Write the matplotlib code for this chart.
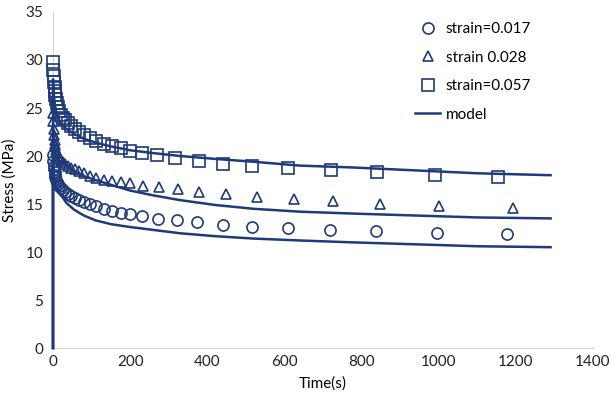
import matplotlib.pyplot as plt

# measured stress relaxation data (time in s, stress in MPa)
t_017 = [0, 1, 2, 3, 4, 5, 6, 8, 10, 13, 16, 20, 25, 31, 38, 46, 56, 67, 80, 95, 112, 131, 152, 175, 200,
         232, 273, 321, 374, 442, 515, 608, 718, 837, 996, 1176]
s_017 = [20.1, 19.5, 19.0, 18.6, 18.3, 18.0, 17.8, 17.5, 17.3, 17.1, 16.9, 16.7, 16.5, 16.3, 16.0, 15.8, 15.6,
         15.4, 15.2, 15.0, 14.75, 14.5, 14.3, 14.1, 13.95, 13.7, 13.45, 13.3, 13.1, 12.8, 12.65, 12.45, 12.3,
         12.2, 12.0, 11.9]

t_028 = [0, 1, 2, 3, 4, 5, 6, 8, 10, 13, 16, 20, 25, 31, 38, 46, 56, 67, 80, 95, 112, 131, 152, 175, 200,
         233, 276, 325, 379, 448, 529, 626, 727, 849, 1001, 1193]
s_028 = [24.5, 23.6, 22.8, 22.2, 21.7, 21.3, 21.0, 20.6, 20.3, 20.0, 19.8, 19.6, 19.4, 19.2, 19.0, 18.8, 18.6,
         18.4, 18.2, 17.95, 17.75, 17.55, 17.4, 17.3, 17.15, 16.9, 16.8, 16.55, 16.3, 16.05, 15.75, 15.5, 15.3,
         15.05, 14.8, 14.6]

t_057 = [0, 1, 2, 3, 4, 5, 6, 8, 10, 13, 16, 20, 25, 31, 38, 46, 56, 67, 80, 95, 112, 131, 152, 175, 200,
         230, 270, 316, 378, 442, 515, 608, 720, 839, 991, 1154]
s_057 = [29.8, 29.0, 28.3, 27.7, 27.2, 26.8, 26.4, 25.9, 25.5, 25.1, 24.7, 24.3, 24.0, 23.7, 23.4, 23.1, 22.8,
         22.5, 22.2, 21.9, 21.6, 21.3, 21.0, 20.8, 20.5, 20.3, 20.1, 19.8, 19.5, 19.2, 19.0, 18.7, 18.5, 18.3,
         18.0, 17.8]

# model curves
t_model = [0, 0, 2, 5, 10, 20, 35, 55, 80, 110, 150, 200, 260, 330, 420, 520, 640, 780, 940, 1100, 1290]
m_017 = [0, 19.5, 18.0, 17.2, 16.6, 16.0, 15.1, 14.4, 13.8, 13.3, 12.9, 12.6, 12.3, 11.95, 11.65, 11.4,
         11.2, 11.0, 10.8, 10.6, 10.5]
m_028 = [0, 23.0, 21.5, 20.5, 19.8, 19.4, 19.0, 18.4, 17.9, 17.5, 17.0, 16.4, 15.9, 15.4, 14.9, 14.5,
         14.2, 14.0, 13.8, 13.6, 13.5]
m_057 = [0, 28.0, 26.5, 25.3, 24.3, 23.4, 22.8, 22.3, 21.8, 21.4, 21.0, 20.6, 20.3, 20.0, 19.7, 19.4,
         19.0, 18.8, 18.5, 18.2, 18.0]

navy = "#1f3a78"
plt.rcParams["font.family"] = ["Lato", "DejaVu Sans"]

fig = plt.figure(figsize=(6.12, 3.96), dpi=100)
ax = fig.add_axes([0.0866, 0.1212, 0.8824, 0.8485])

mk = dict(linestyle="none", markerfacecolor="none", markeredgecolor=navy, markeredgewidth=1.2,
          clip_on=False, zorder=3)
ax.plot(t_017, s_017, marker="o", markersize=8, label="strain=0.017", **mk)
ax.plot(t_028, s_028, marker="^", markersize=7.5, label="strain 0.028", **mk)
ax.plot(t_057, s_057, marker="s", markersize=8.5, label="strain=0.057", **mk)
ax.plot(t_model, m_017, color=navy, lw=1.8, label="model", clip_on=False, zorder=3)
ax.plot(t_model, m_028, color=navy, lw=1.8, clip_on=False, zorder=3)
ax.plot(t_model, m_057, color=navy, lw=1.8, clip_on=False, zorder=3)

ax.set_xlim(0, 1400)
ax.set_ylim(0, 35)
ax.set_xticks(range(0, 1401, 200))
ax.set_yticks(range(0, 36, 5))
ax.tick_params(length=0, labelsize=11, colors="#222222")
ax.tick_params(axis="y", pad=7)
ax.tick_params(axis="x", pad=5)
for side in ["top", "right"]:
    ax.spines[side].set_visible(False)
for side in ["left", "bottom"]:
    ax.spines[side].set_color("#d0d0d0")
    ax.spines[side].set_linewidth(0.8)

ax.set_xlabel("Time(s)", fontsize=11, labelpad=5)
ax.set_ylabel("Stress (MPa)", fontsize=11, labelpad=6)

ax.legend(loc="upper left", bbox_to_anchor=(415 / 612, 1 - 22 / 396), bbox_transform=fig.transFigure,
          frameon=False, fontsize=11, labelspacing=0.95, handlelength=1.65, handletextpad=0.35,
          borderaxespad=0, borderpad=0)

fig.savefig("out.png", dpi=100)
